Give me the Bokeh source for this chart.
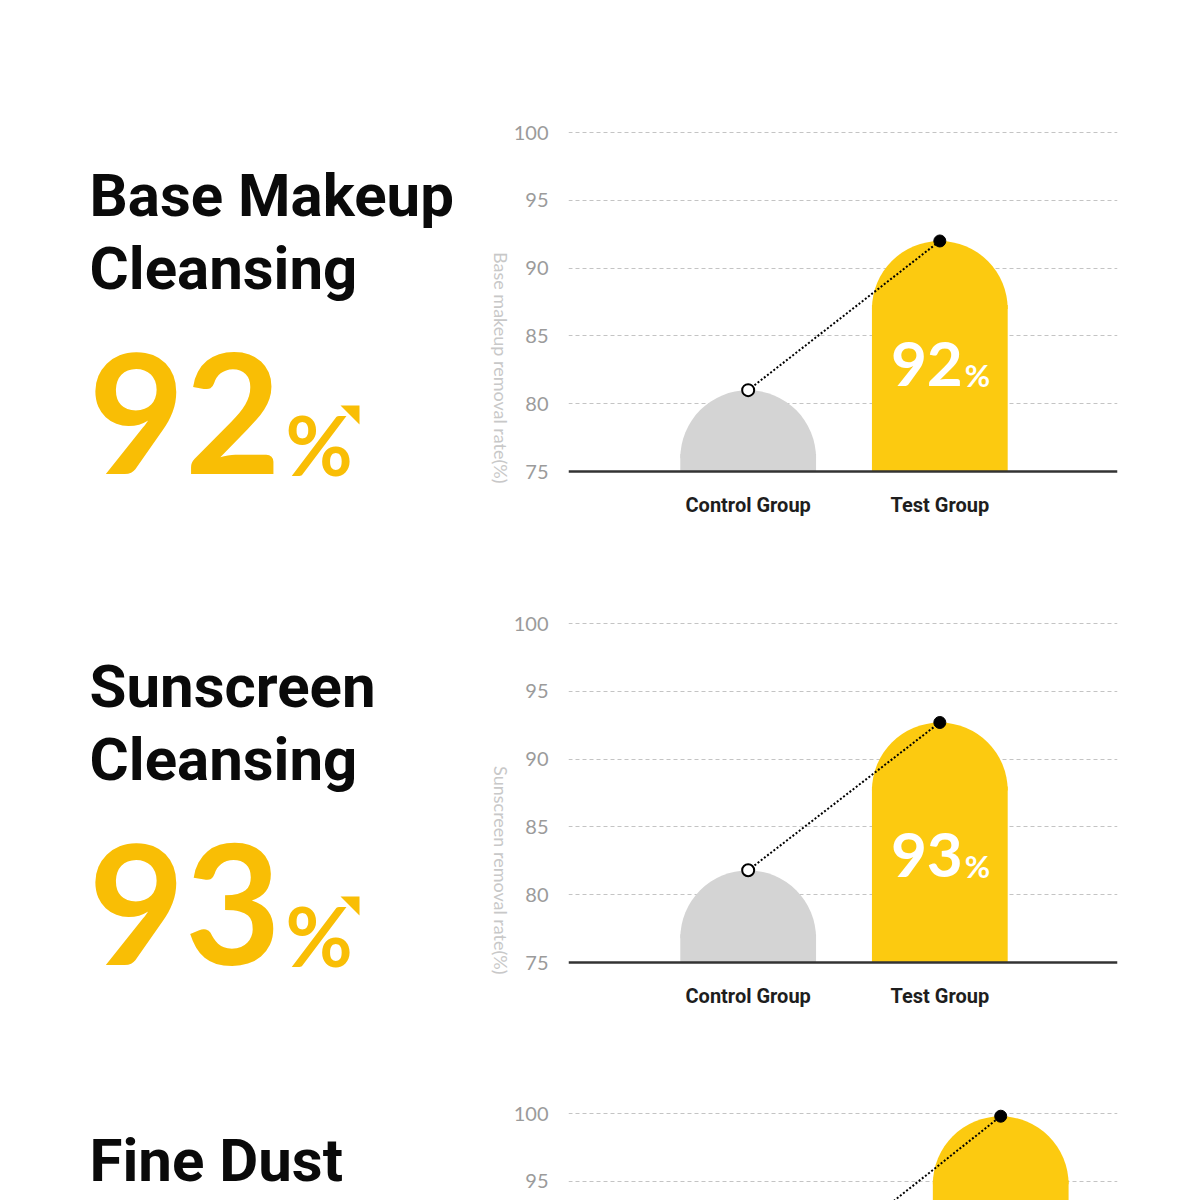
import math
from bokeh.plotting import figure
from bokeh.layouts import column, row
from bokeh.models import Range1d, FixedTicker, ColumnDataSource, Span
from bokeh.core.properties import value
from bokeh.embed import file_html
from bokeh.resources import INLINE

# ---------------- data ----------------
categories = ["Control Group", "Test Group"]
title_lines = [["Base Makeup", "Cleansing"], ["Sunscreen", "Cleansing"], ["Fine Dust"]]
control_values = [81.0, 81.8, 88.6]
test_values = [92.0, 92.7, 99.8]
headline_values = ["92", "93", ""]
axis_titles = ["Base makeup removal rate(%)", "Sunscreen removal rate(%)", ""]
y_ticks = [75, 80, 85, 90, 95, 100]
grid_ticks = [80, 85, 90, 95, 100]

# ---------------- layout / style (pixels) ----------------
PAGE_W = 1200
LEFT_W = 510
CHART_W = PAGE_W - LEFT_W
B_LEFT, B_RIGHT = 57, 83
FRAME_W = CHART_W - B_LEFT - B_RIGHT
PX_PER_Y = 13.56
PX_PER_X = 192.0
Y_BASE = 75.0
sec_bounds = [0, 560, 1051, 1200]       # page y of section edges
base_px = [471, 962, 1452]              # page y of the 75 baseline
ctrl_px = [180, 180, 241]               # control bar centre from frame left
BAR_W_PX = 136

YELLOW = "#FCCA10"
GRAY = "#D4D4D4"
BIG_YELLOW = "#F9BE05"

bw = BAR_W_PX / PX_PER_X
r_y = (BAR_W_PX / 2) / PX_PER_Y
seam = 0.3

rows = []
for i in range(3):
    s0, s1 = sec_bounds[i], sec_bounds[i + 1]
    H = s1 - s0
    y_end = Y_BASE + (base_px[i] - s0) / PX_PER_Y
    y_start = Y_BASE - (s1 - base_px[i]) / PX_PER_Y
    xs = -ctrl_px[i] / PX_PER_X
    xe = xs + FRAME_W / PX_PER_X
    b = base_px[i]

    # ---------- left text panel (page-pixel coordinates) ----------
    l = figure(width=LEFT_W, height=H, x_range=Range1d(0, LEFT_W), y_range=Range1d(s1, s0),
               x_axis_location=None, y_axis_location=None, min_border=0,
               toolbar_location=None, output_backend="svg")
    l.grid.visible = False
    l.outline_line_color = None
    for j, t in enumerate(title_lines[i]):
        yc = min(b - 276 + 73 * j, s1 - 40)
        l.text(x=[89], y=[yc], text=[t], text_font=value("Roboto"), text_font_style="bold",
               text_font_size="60px", text_color="#0a0a0a", text_baseline="middle",
               text_align="left")
    if headline_values[i]:
        l.text(x=[88], y=[b - 58], text=[headline_values[i]],
               text_font=value("Lato"), text_font_style="bold",
               text_font_size="166px", text_color=BIG_YELLOW,
               text_baseline="middle", text_align="left")
        l.text(x=[285], y=[b - 28], text=["%"], text_font=value("Lato"),
               text_font_style="bold", text_font_size="82px", text_color=BIG_YELLOW,
               text_baseline="middle", text_align="left")
        l.patch(x=[340, 359, 359], y=[b - 66, b - 66, b - 47], fill_color=BIG_YELLOW,
                line_color=None)
    if axis_titles[i]:
        l.text(x=[500], y=[b + 12], text=[axis_titles[i]], text_font=value("Lato"),
               text_font_size="18px", text_color="#c8c8c8", angle=-math.pi / 2,
               text_align="right", text_baseline="middle")

    # ---------- chart panel ----------
    c = figure(width=CHART_W, height=H, x_range=Range1d(xs, xe), y_range=Range1d(y_start, y_end),
               x_axis_location=None, toolbar_location=None, output_backend="svg",
               min_border_left=B_LEFT, min_border_right=B_RIGHT,
               min_border_top=0, min_border_bottom=0)
    c.outline_line_color = None
    c.xgrid.visible = False
    c.ygrid.ticker = FixedTicker(ticks=grid_ticks)
    c.ygrid.grid_line_color = "#c4c4c4"
    c.ygrid.grid_line_dash = "4 3"
    c.ygrid.grid_line_width = 1
    c.yaxis.ticker = FixedTicker(ticks=[t for t in y_ticks if y_start < t < y_end])
    c.yaxis.axis_line_color = None
    c.yaxis.major_tick_line_color = None
    c.yaxis.minor_tick_line_color = None
    c.yaxis.major_label_text_font = "Lato"
    c.yaxis.major_label_text_font_size = "20px"
    c.yaxis.major_label_text_color = "#9b9b9b"
    c.yaxis.major_label_standoff = 14

    vals = [control_values[i], test_values[i]]
    src = ColumnDataSource(dict(
        x=[0, 1], v=vals, top=[v - r_y for v in vals],
        rect_top=[v - r_y + seam for v in vals], color=[GRAY, YELLOW], label=categories))
    c.vbar(x="x", width=bw, bottom=Y_BASE, top="rect_top", fill_color="color", line_color=None, source=src)
    c.wedge(x="x", y="top", radius=bw / 2, start_angle=0, end_angle=math.pi,
            fill_color="color", line_color=None, source=src)
    if y_start < Y_BASE:
        c.add_layout(Span(location=Y_BASE, dimension="width", line_color="#333333", line_width=2.5))
        c.text(x="x", y=Y_BASE, text="label", source=src, y_offset=33,
               text_font=value("Roboto"), text_font_style="bold", text_font_size="20px",
               text_color="#1e1e1e", text_align="center", text_baseline="middle")
    c.line(x="x", y="v", source=src, line_color="black", line_width=2, line_dash="2 2")
    c.scatter(x=[0], y=[control_values[i]], size=12, fill_color="white", line_color="black", line_width=2)
    c.scatter(x=[1], y=[test_values[i]], size=12, fill_color="black", line_color="black")
    if headline_values[i]:
        c.text(x=[1], y=[Y_BASE], text=[headline_values[i]], x_offset=23, y_offset=-108,
               text_font=value("Lato"), text_font_style="bold", text_font_size="62px",
               text_color="white", text_align="right", text_baseline="middle")
        c.text(x=[1], y=[Y_BASE], text=["%"], x_offset=25, y_offset=-97,
               text_font=value("Lato"), text_font_style="bold", text_font_size="31px",
               text_color="white", text_align="left", text_baseline="middle")
    rows.append(row(l, c))

layout = column(*rows)
open("out.html", "w").write(file_html(layout, INLINE))
